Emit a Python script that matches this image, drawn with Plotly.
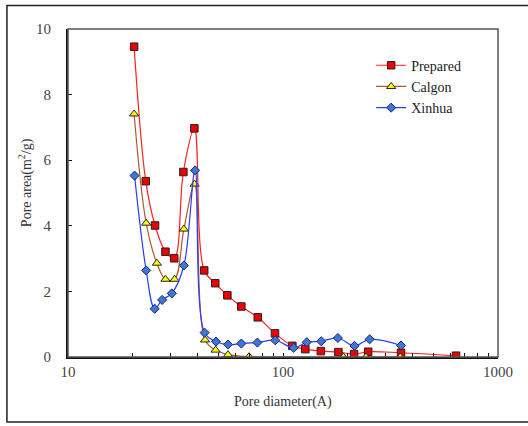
import plotly.graph_objects as go

# Pore size distribution of three activated carbons
prepared_d = [20.3, 23.0, 25.4, 28.4, 31.2, 34.4, 38.7, 43.0, 48.4, 55.1, 64.0, 76.3,
              91.8, 110.5, 127, 150, 181, 214, 249, 354, 638]
prepared_a = [9.46, 5.36, 4.01, 3.21, 3.01, 5.64, 6.97, 2.64, 2.25, 1.88, 1.54, 1.21,
              0.72, 0.34, 0.24, 0.18, 0.15, 0.09, 0.16, 0.13, 0.04]

calgon_d = [20.3, 23.1, 25.9, 28.4, 31.3, 34.6, 38.8, 43.4, 48.6, 55.5, 69.5, 191, 243, 351]
calgon_a = [7.41, 4.08, 2.86, 2.37, 2.37, 3.90, 5.27, 0.52, 0.21, 0.07, 0.01, 0.0, 0.0, 0.0]

xinhua_d = [20.4, 23.1, 25.3, 27.4, 30.4, 34.6, 39.0, 43.2, 48.8, 55.5, 64.0, 76.0,
            92.0, 112, 129, 150.5, 180, 215, 253, 354]
xinhua_a = [5.53, 2.64, 1.47, 1.74, 1.94, 2.79, 5.69, 0.74, 0.47, 0.38, 0.41, 0.44,
            0.51, 0.28, 0.45, 0.48, 0.58, 0.34, 0.54, 0.35]

x_tickvals = [10, 20, 30, 40, 50, 60, 70, 80, 90,
              100, 200, 300, 400, 500, 600, 700, 800, 900, 1000]
x_ticktext = ["10", "", "", "", "", "", "", "", "",
              "100", "", "", "", "", "", "", "", "", "1000"]
y_tickvals = [0, 2, 4, 6, 8, 10]

SERIF = "Liberation Serif, Times New Roman, serif"

fig = go.Figure()

fig.add_trace(go.Scatter(
    x=prepared_d, y=prepared_a, name="Prepared", mode="lines+markers",
    line=dict(color="#ff2020", width=1.2, shape="spline", smoothing=1),
    marker=dict(symbol="square", size=7.5, color="#ee0000",
                line=dict(color="#222222", width=1)),
))
fig.add_trace(go.Scatter(
    x=calgon_d, y=calgon_a, name="Calgon", mode="lines+markers",
    line=dict(color="#b0582c", width=1.2, shape="spline", smoothing=1),
    marker=dict(symbol="triangle-up", size=8, color="#ffff00",
                line=dict(color="#222222", width=1)),
))
fig.add_trace(go.Scatter(
    x=xinhua_d, y=xinhua_a, name="Xinhua", mode="lines+markers",
    line=dict(color="#2a3cff", width=1.2, shape="spline", smoothing=1),
    marker=dict(symbol="diamond", size=7, color="#3f74d8",
                line=dict(color="#1a2a60", width=1)),
))

# Outer frame around the whole figure and the grey top/right plot border
fig.add_shape(type="rect", xref="paper", yref="paper",
              x0=-0.142, x1=1.08, y0=-0.1985, y1=1.0718,
              line=dict(color="#222222", width=1.5), layer="below")
fig.add_shape(type="rect", xref="paper", yref="paper",
              x0=0, x1=1, y0=0, y1=1,
              line=dict(color="#555555", width=1.5), layer="above")

fig.add_annotation(text="Pore diameter(A)", xref="paper", yref="paper",
                   x=0.5, y=-0.137, xanchor="center", yanchor="middle",
                   showarrow=False, font=dict(family=SERIF, size=14, color="#333333"))
fig.add_annotation(text="Pore area(m<sup>2</sup>/g)", xref="paper", yref="paper",
                   x=-0.1, y=0.53, xanchor="center", yanchor="middle", textangle=-90,
                   showarrow=False, font=dict(family=SERIF, size=14, color="#333333"))

fig.update_layout(
    width=528, height=426,
    margin=dict(l=68, r=30, t=29, b=69),
    paper_bgcolor="white", plot_bgcolor="white",
    showlegend=True,
    legend=dict(x=0.705, y=0.937, xanchor="left", yanchor="top",
                bgcolor="rgba(0,0,0,0)",
                font=dict(family=SERIF, size=14, color="#222222"),
                tracegroupgap=0, itemwidth=30),
    xaxis=dict(type="log", range=[1, 3], tickvals=x_tickvals, ticktext=x_ticktext,
               ticks="inside", ticklen=4, tickcolor="#111111",
               showline=True, linecolor="#111111", linewidth=2,
               showgrid=False, zeroline=False,
               tickfont=dict(family=SERIF, size=15, color="#444444")),
    yaxis=dict(range=[0, 10], tickvals=y_tickvals,
               ticks="inside", ticklen=4, tickcolor="#111111",
               showline=True, linecolor="#111111", linewidth=2,
               showgrid=False, zeroline=False, ticklabelstandoff=12,
               tickfont=dict(family=SERIF, size=15, color="#444444")),
)

fig.write_html("out.html")
